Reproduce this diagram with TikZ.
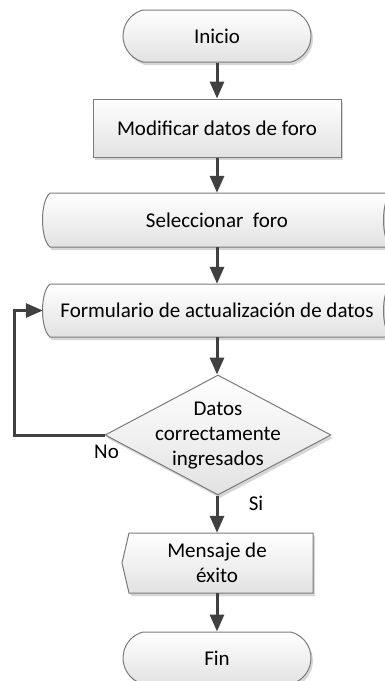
\documentclass[tikz,border=0pt]{standalone}
\usepackage{fontspec}
\setmainfont{Carlito}
\usetikzlibrary{shapes.geometric,shapes.misc,arrows.meta,shadows}
\definecolor{edgec}{HTML}{7A7A7A}
\definecolor{arrowc}{HTML}{404040}
\definecolor{fillbot}{HTML}{E2E2E2}
\tikzset{
 shapefill/.style={draw=edgec, line width=1pt, top color=white, bottom color=fillbot,
   drop shadow={shadow xshift=2pt, shadow yshift=-3pt, fill=black!35, opacity=0.45}},
 term/.style={shapefill, rounded rectangle, rounded rectangle arc length=150,
   minimum width=188pt, minimum height=52pt, inner sep=0pt},
 proc/.style={shapefill, rectangle, minimum width=248pt, minimum height=58pt, inner sep=0pt},
 dec/.style={shapefill, diamond, minimum width=226pt, minimum height=120pt, inner sep=0pt},
 lbl/.style={inner sep=0pt, align=center},
 arr/.style={draw=arrowc, line width=3pt, -{Triangle[width=14pt,length=17pt]}},
}
\begin{document}
\begin{tikzpicture}[x=1pt,y=-1pt,font=\fontsize{21}{25}\selectfont]
\useasboundingbox (0,0) rectangle (385,681);
\clip (0,0) rectangle (385,681);
% shapes
\node[term] (inicio) at (217,36) {Inicio};
\node[proc] (mod) at (217,128) {Modificar datos de foro};
\path[shapefill] (50,193) -- (391,193) .. controls (381,201) and (381,239) .. (391,247)
  -- (50,247) .. controls (40,239) and (40,201) .. (50,193) -- cycle;
\node[lbl, minimum width=348pt, minimum height=54pt] (sel) at (217,220) {Seleccionar\ \ foro};
\path[shapefill] (50,284) -- (391,284) .. controls (381,292) and (381,329) .. (391,337)
  -- (50,337) .. controls (40,329) and (40,292) .. (50,284) -- cycle;
\node[lbl, minimum width=348pt, minimum height=53pt] (form) at (217,310.5) {Formulario de actualización de datos};
\node[dec] (decision) at (218,435) {};
\node[lbl] (dectxt) at (218,436) {Datos\\correctamente\\ingresados};
\path[shapefill] (129,533) -- (313,533) -- (313,593) -- (129,593) -- (122,563) -- cycle;
\node[lbl, minimum height=60pt] (msg) at (217,563) {Mensaje de\\éxito};
\node[term] (fin) at (217,658) {Fin};
% labels
\node[lbl] (no) at (106.5,452) {No};
\node[lbl] (si) at (256,503) {Si};
% connectors
\draw[arr] (inicio.south) -- (mod.north);
\draw[arr] (mod.south) -- (sel.north);
\draw[arr] (sel.south) -- (form.north);
\draw[arr] (form.south) -- (decision.north -| form.south);
\draw[arr] (decision.south -| msg.north) -- (msg.north);
\draw[arr] (msg.south) -- (fin.north);
\draw[arr] (decision.west) -- (14,435) |- (form.west);
\end{tikzpicture}
\end{document}
